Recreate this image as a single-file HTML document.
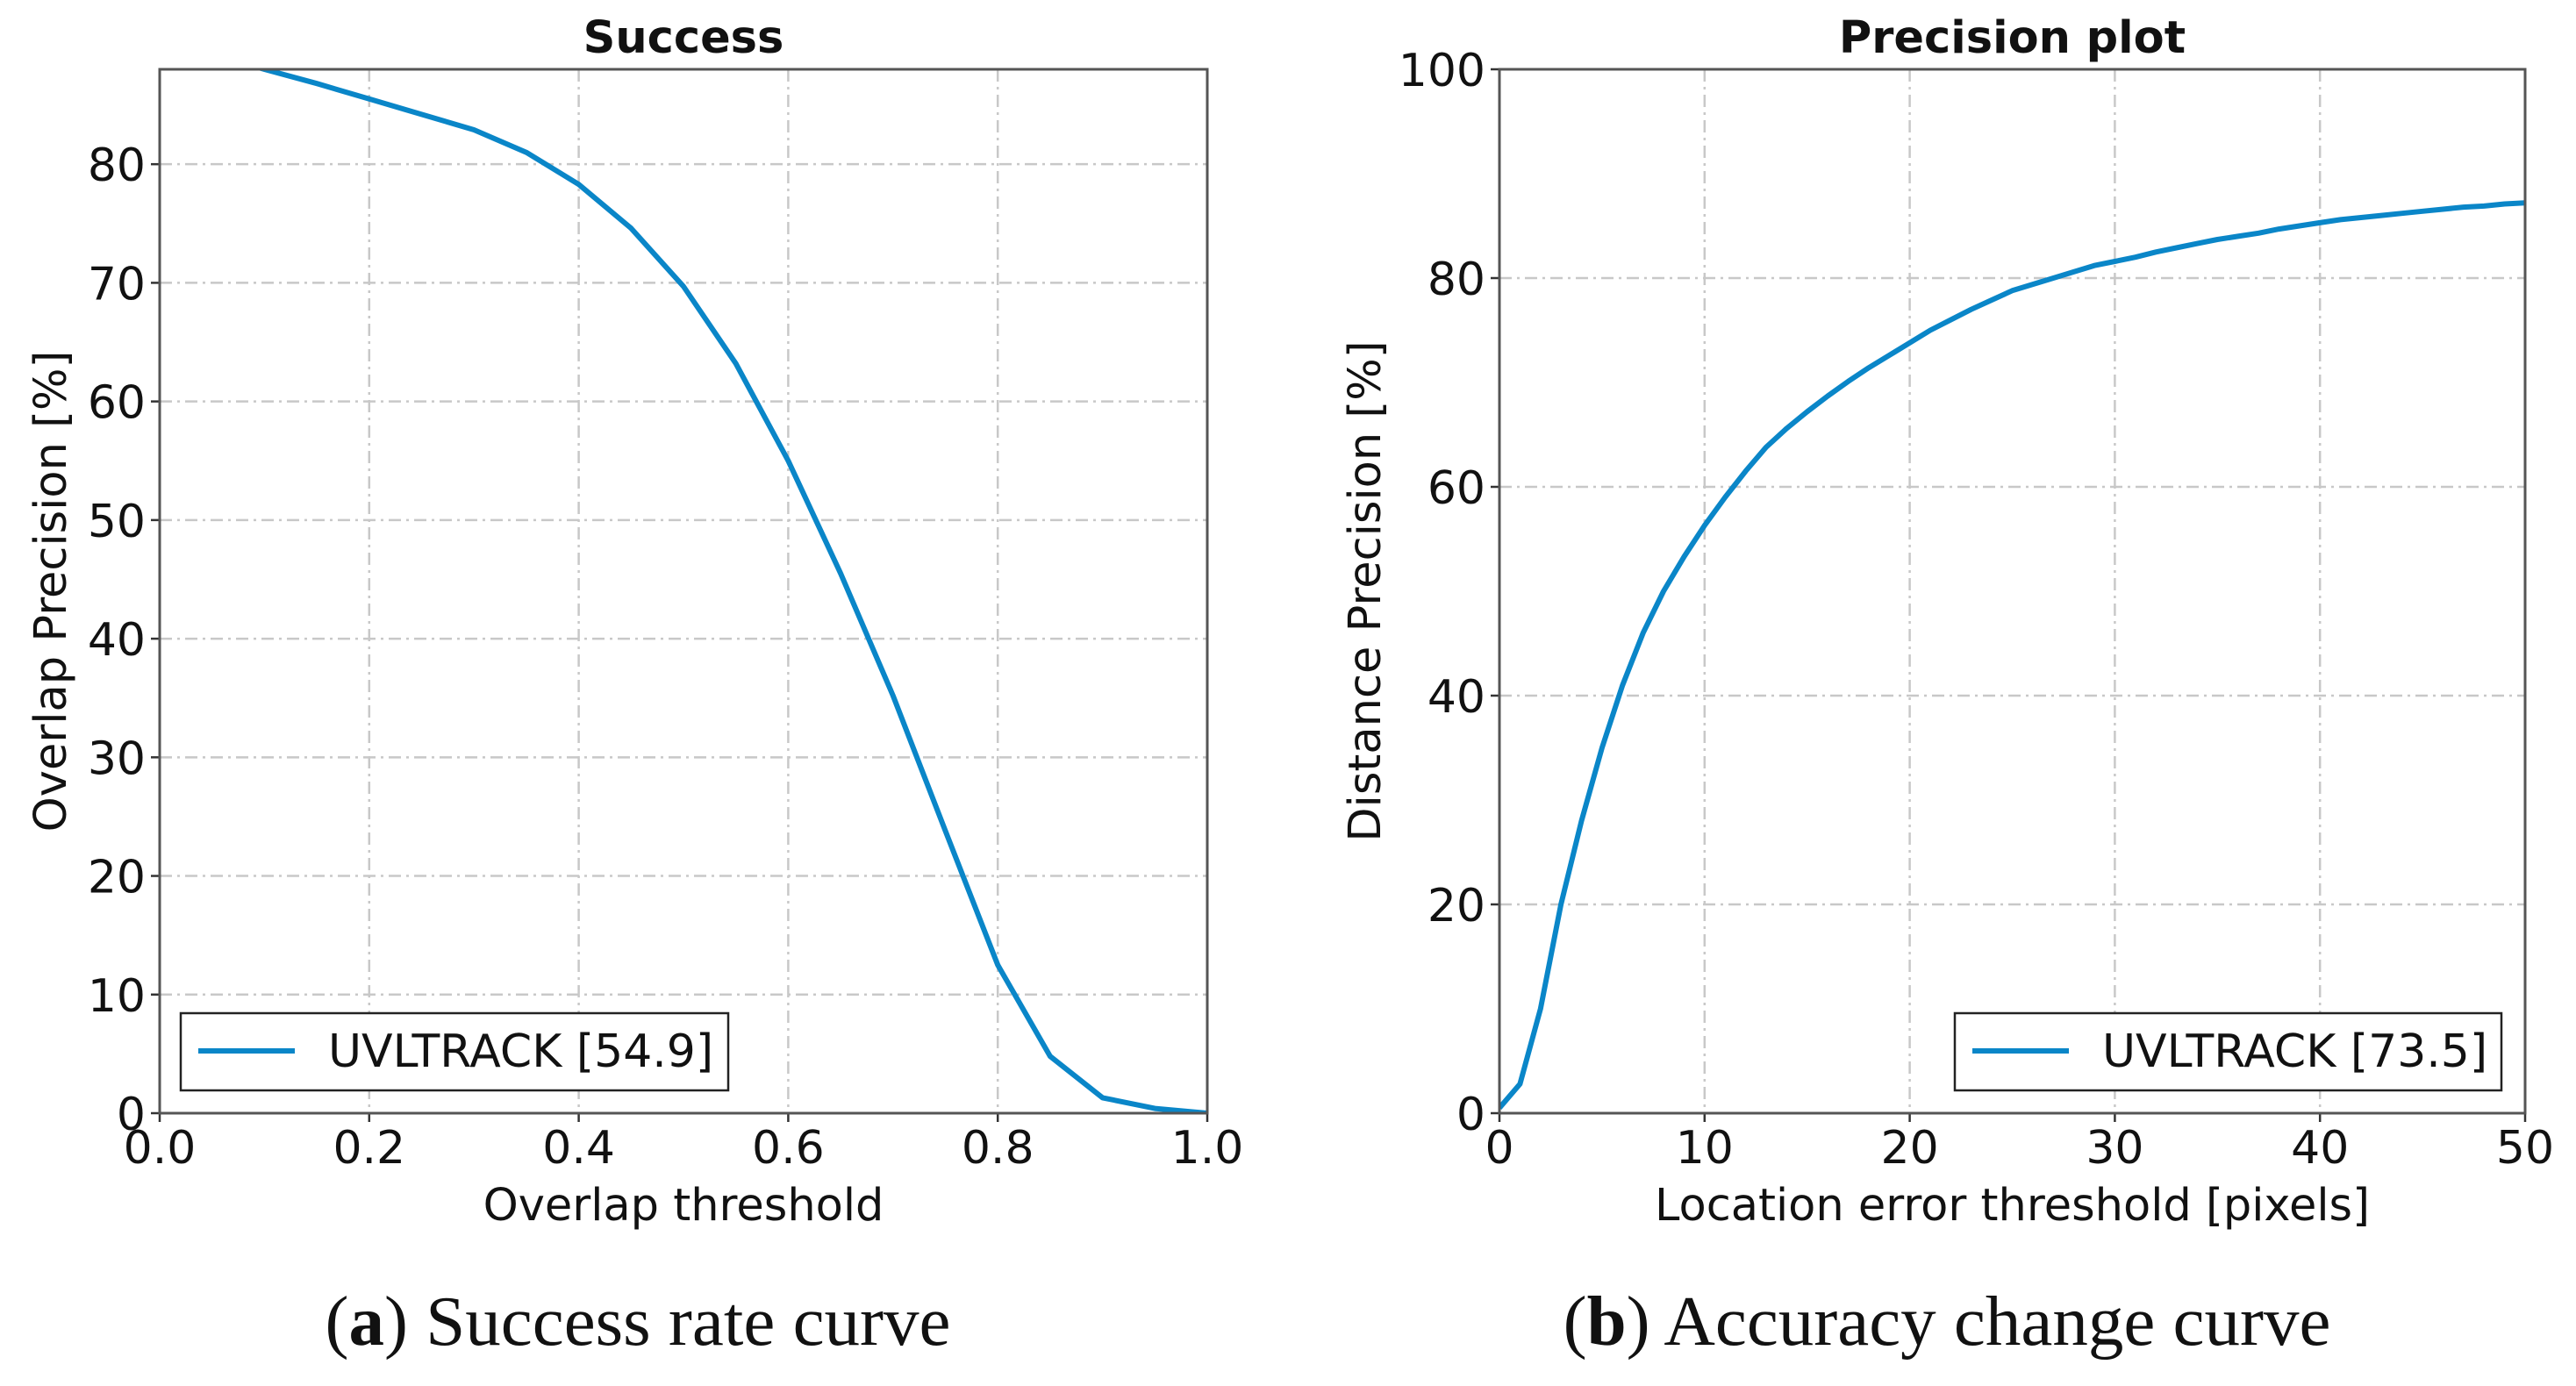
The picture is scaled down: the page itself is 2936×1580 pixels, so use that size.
<!DOCTYPE html>
<html><head><meta charset="utf-8"><style>
html,body{margin:0;padding:0;background:#fff;}
svg{display:block;}
text{font-family:"DejaVu Sans","Liberation Sans",sans-serif;fill:#111;}
.cap{font-family:"Liberation Serif",serif;}
</style></head><body>
<svg id="fig" width="2936" height="1580" viewBox="0 0 2936 1580" xmlns="http://www.w3.org/2000/svg">
<defs>
<clipPath id="clipA"><rect x="182" y="79" width="1194" height="1190"/></clipPath>
<clipPath id="clipB"><rect x="1709" y="79" width="1169" height="1190"/></clipPath>
</defs>
<g id="gA"></g>
<g id="gB"></g>
<text class="cap" x="727" y="1533" font-size="81" text-anchor="middle">(<tspan font-weight="bold">a</tspan>) Success rate curve</text>
<text class="cap" x="2219" y="1533" font-size="81" text-anchor="middle">(<tspan font-weight="bold">b</tspan>) Accuracy change curve</text>
</svg>
<script>
const NS="http://www.w3.org/2000/svg";
// Success plot data
const succX=[0,0.05,0.1,0.15,0.2,0.25,0.3,0.35,0.4,0.45,0.5,0.55,0.6,0.65,0.7,0.75,0.8,0.85,0.9,0.95,1.0];
const succY=[90.5,89.3,88,86.8,85.5,84.2,82.9,81,78.3,74.6,69.7,63.2,55,45.5,35.2,23.8,12.5,4.8,1.3,0.4,0];
const succXTicks=[0,0.2,0.4,0.6,0.8,1.0];
const succXTickLabels=["0.0","0.2","0.4","0.6","0.8","1.0"];
const succYTicks=[0,10,20,30,40,50,60,70,80];
// Precision plot data
const precX=[0,1,2,3,4,5,6,7,8,9,10,11,12,13,14,15,16,17,18,19,20,21,22,23,24,25,26,27,28,29,30,31,32,33,34,35,36,37,38,39,40,41,42,43,44,45,46,47,48,49,50];
const precY=[0.5,2.8,10,20,28,35,41,46,50,53.3,56.3,59,61.5,63.8,65.6,67.2,68.7,70.1,71.4,72.6,73.8,75,76,77,77.9,78.8,79.4,80,80.6,81.2,81.6,82,82.5,82.9,83.3,83.7,84,84.3,84.7,85,85.3,85.6,85.8,86,86.2,86.4,86.6,86.8,86.9,87.1,87.2];
const precXTicks=[0,10,20,30,40,50];
const precYTicks=[0,20,40,60,80,100];

function el(tag,attrs,parent){const e=document.createElementNS(NS,tag);for(const k in attrs)e.setAttribute(k,attrs[k]);parent.appendChild(e);return e;}

function chart(g,o){
  const sx=v=>o.L+(v-o.xmin)/(o.xmax-o.xmin)*(o.R-o.L);
  const sy=v=>o.B-(v-o.ymin)/(o.ymax-o.ymin)*(o.B-o.T);
  o.xt.forEach((t,i)=>{
    const x=sx(t);
    if(i>0&&i<o.xt.length-1){const gl=el('line',{x1:x,x2:x,y1:o.T,y2:o.B,stroke:'#c8c8c8','stroke-width':2.5,'stroke-dasharray':'14 6 3 6'},g);
    
    }
    const tk=el('line',{x1:x,x2:x,y1:o.B,y2:o.B+10,stroke:'#333','stroke-width':2.5},g);
    
    
    const tl=el('text',{x:x,y:o.B+57,'font-size':52,'text-anchor':'middle'},g);
    tl.textContent=o.xl[i];
    
    
  });
  o.yt.forEach(t=>{
    const y=sy(t);
    if(t>o.ymin&&t<o.ymax){const gl=el('line',{x1:o.L,x2:o.R,y1:y,y2:y,stroke:'#c8c8c8','stroke-width':2.5,'stroke-dasharray':'14 6 3 6'},g);
    
    }
    const tk=el('line',{x1:o.L-10,x2:o.L,y1:y,y2:y,stroke:'#333','stroke-width':2.5},g);
    
    
    const tl=el('text',{x:o.L-16,y:y+19,'font-size':52,'text-anchor':'end'},g);
    tl.textContent=String(t);
    
    
  });
  const d=o.xs.map((v,i)=>(i?'L':'M')+sx(v).toFixed(1)+','+sy(o.ys[i]).toFixed(1)).join(' ');
  const p=el('path',{d:d,fill:'none',stroke:'#0a86c8','stroke-width':6,'stroke-linejoin':'round','clip-path':o.clip},g);
  
  
  const fr=el('rect',{x:o.L,y:o.T,width:o.R-o.L,height:o.B-o.T,fill:'none',stroke:'#555','stroke-width':3},g);
  
  
  const ti=el('text',{x:(o.L+o.R)/2,y:60,'font-size':51,'font-weight':'bold','text-anchor':'middle'},g);
  ti.textContent=o.title;
  
  
  const xa=el('text',{x:(o.L+o.R)/2,y:o.B+122,'font-size':51,'text-anchor':'middle'},g);
  xa.textContent=o.xlabel;
  
  
  const cy=(o.T+o.B)/2;
  const ya=el('text',{x:o.yLabX,y:cy,'font-size':51,'text-anchor':'middle',transform:`rotate(-90 ${o.yLabX} ${cy})`},g);
  ya.textContent=o.ylabel;
  
  
  const lg=el('g',{},g);
  
  
  el('rect',{x:o.lg[0],y:1155,width:o.lg[1]-o.lg[0],height:88,fill:'#fff',stroke:'#222','stroke-width':2.5},lg);
  el('line',{x1:o.lg[0]+20,x2:o.lg[0]+130,y1:1198,y2:1198,stroke:'#0a86c8','stroke-width':6},lg);
  const lt=el('text',{x:o.lg[0]+168,y:1216,'font-size':52},lg);
  lt.textContent=o.legend;
  
  
}
chart(document.getElementById('gA'),{L:182,R:1376,T:79,B:1269,xmin:0,xmax:1,ymin:0,ymax:88,xs:succX,ys:succY,xt:succXTicks,xl:succXTickLabels,yt:succYTicks,clip:'url(#clipA)',title:'Success',xlabel:'Overlap threshold',ylabel:'Overlap Precision [%]',yLabX:75,lg:[206,830],legend:'UVLTRACK [54.9]'});
chart(document.getElementById('gB'),{L:1709,R:2878,T:79,B:1269,xmin:0,xmax:50,ymin:0,ymax:100,xs:precX,ys:precY,xt:precXTicks,xl:precXTicks.map(String),yt:precYTicks,clip:'url(#clipB)',title:'Precision plot',xlabel:'Location error threshold [pixels]',ylabel:'Distance Precision [%]',yLabX:1573,lg:[2228,2851],legend:'UVLTRACK [73.5]'});
</script>
</body></html>
